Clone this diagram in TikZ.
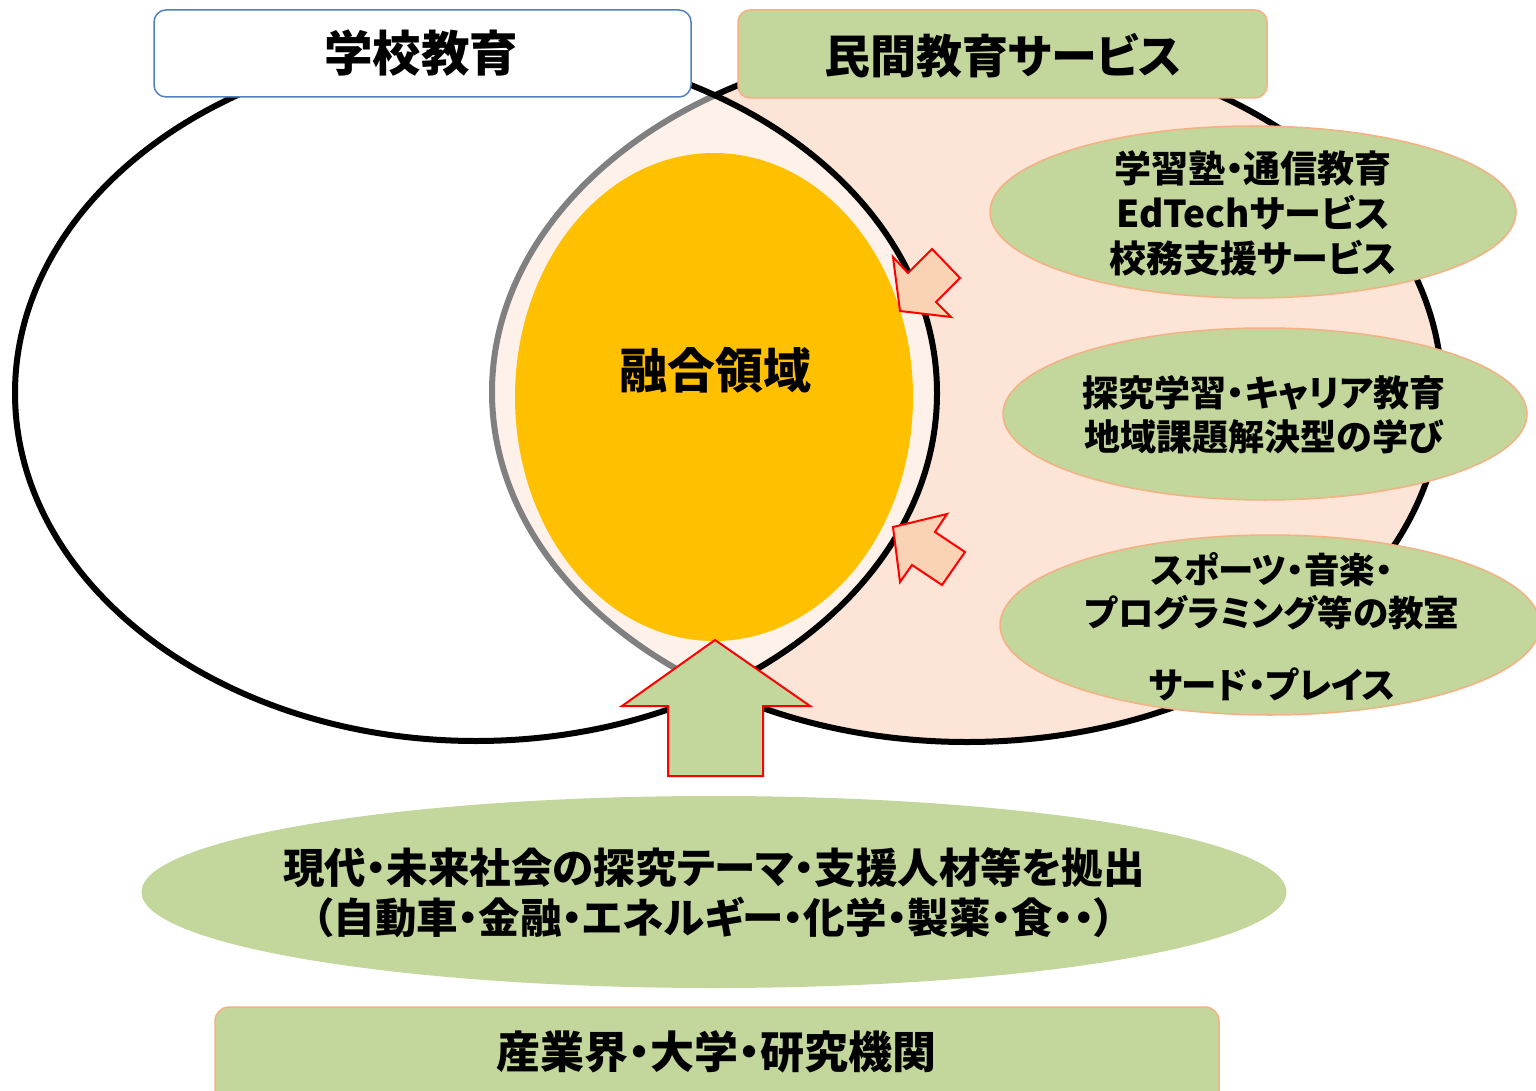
\documentclass[tikz,border=0pt]{standalone}
\usepackage{fontspec}
\setmainfont{Noto Sans CJK JP}[RawFeature=+palt]
\usetikzlibrary{shapes.geometric}
\definecolor{peach}{HTML}{FCE4D6}
\definecolor{olive}{HTML}{C3D69B}
\definecolor{salmon}{HTML}{F4B183}
\definecolor{arrowfill}{HTML}{FAD2B4}
\definecolor{gold}{HTML}{FFC000}
\definecolor{boxblue}{HTML}{4F81BD}
\tikzset{
  bigell/.style={ellipse, inner sep=0pt, line width=6pt, draw=black},
  greenell/.style={ellipse, inner sep=0pt, fill=olive, draw=salmon, line width=1.5pt},
  label/.style={inner sep=0pt, align=center, font=\bfseries},
  blockarrow/.style={draw=red, line width=2pt, line join=miter},
}
\begin{document}
\begin{tikzpicture}[x=1pt,y=-1pt]
\useasboundingbox (0,0) rectangle (1536,1091);
\clip (0,0) rectangle (1536,1091);
% big ellipses
\node[bigell, fill=peach, minimum width=950pt, minimum height=700pt] (rightE) at (967,392) {};
\node[bigell, fill=white, fill opacity=0.5, minimum width=922pt, minimum height=696pt] (leftE) at (476,393) {};
% fusion area
\node[ellipse, inner sep=0pt, fill=gold, minimum width=398pt, minimum height=488pt] (fusion) at (714,397) {};
\node[label, font=\fontsize{48}{52}\selectfont\bfseries] (fusiontext) at (715,370) {融合領域};
% top boxes
\node[draw=boxblue, line width=1.5pt, fill=white, rounded corners=12pt, minimum width=537pt, minimum height=87pt, inner sep=0pt] (school) at (422.5,53.5) {};
\node[label, font=\fontsize{48.5}{52}\selectfont\bfseries] (schooltext) at (421,53) {学校教育};
\node[draw=salmon, line width=1.5pt, fill=olive, rounded corners=12pt, minimum width=529pt, minimum height=88pt, inner sep=0pt] (private) at (1002.5,54) {};
\node[label, font=\fontsize{46}{50}\selectfont\bfseries] (privatetext) at (1003,56) {民間教育サービス};
% green ellipses on the right
\node[greenell, minimum width=526pt, minimum height=172pt] (e1) at (1253,212) {};
\node[label, font=\fontsize{37}{45}\selectfont\bfseries] (e1text) at (1253,213) {学習塾・通信教育\\EdTechサービス\\校務支援サービス};
\node[greenell, minimum width=524pt, minimum height=172pt] (e2) at (1265,414) {};
\node[label, font=\fontsize{36}{44}\selectfont\bfseries] (e2text) at (1264,415) {探究学習・キャリア教育\\地域課題解決型の学び};
\node[greenell, minimum width=540pt, minimum height=180pt] (e3) at (1270,625) {};
\node[label, font=\fontsize{35.5}{43}\selectfont\bfseries] (e3text) at (1272,627) {スポーツ・音楽・\\プログラミング等の教室\\[29pt]サード・プレイス};
% small block arrows
\draw[blockarrow, fill=arrowfill] (900,311) -- (893,257) -- (908,273) -- (932,249) -- (960,278) -- (936,302) -- (951,317) -- cycle;
\draw[blockarrow, fill=arrowfill] (893,527) -- (947,514) -- (935,532) -- (965,552) -- (942,585) -- (912,565) -- (900,582) -- cycle;
% big up arrow
\draw[blockarrow, fill=olive] (715,640) -- (810,706) -- (763,706) -- (763,776) -- (668,776) -- (668,706) -- (622,706) -- cycle;
% bottom ellipse
\node[ellipse, inner sep=0pt, fill=olive, minimum width=1145pt, minimum height=192pt] (bottomE) at (714,892) {};
\node[label, font=\fontsize{41.5}{50}\selectfont\bfseries] (bottomtext) at (714,893) {現代・未来社会の探究テーマ・支援人材等を拠出\\（自動車・金融・エネルギー・化学・製薬・食・・）};
% bottom box
\node[draw=salmon, line width=1.5pt, fill=olive, rounded corners=14pt, minimum width=1004pt, minimum height=110pt, inner sep=0pt] (industry) at (717,1062) {};
\node[label, font=\fontsize{44}{48}\selectfont\bfseries] (industrytext) at (716,1052) {産業界・大学・研究機関};
\end{tikzpicture}
\end{document}
